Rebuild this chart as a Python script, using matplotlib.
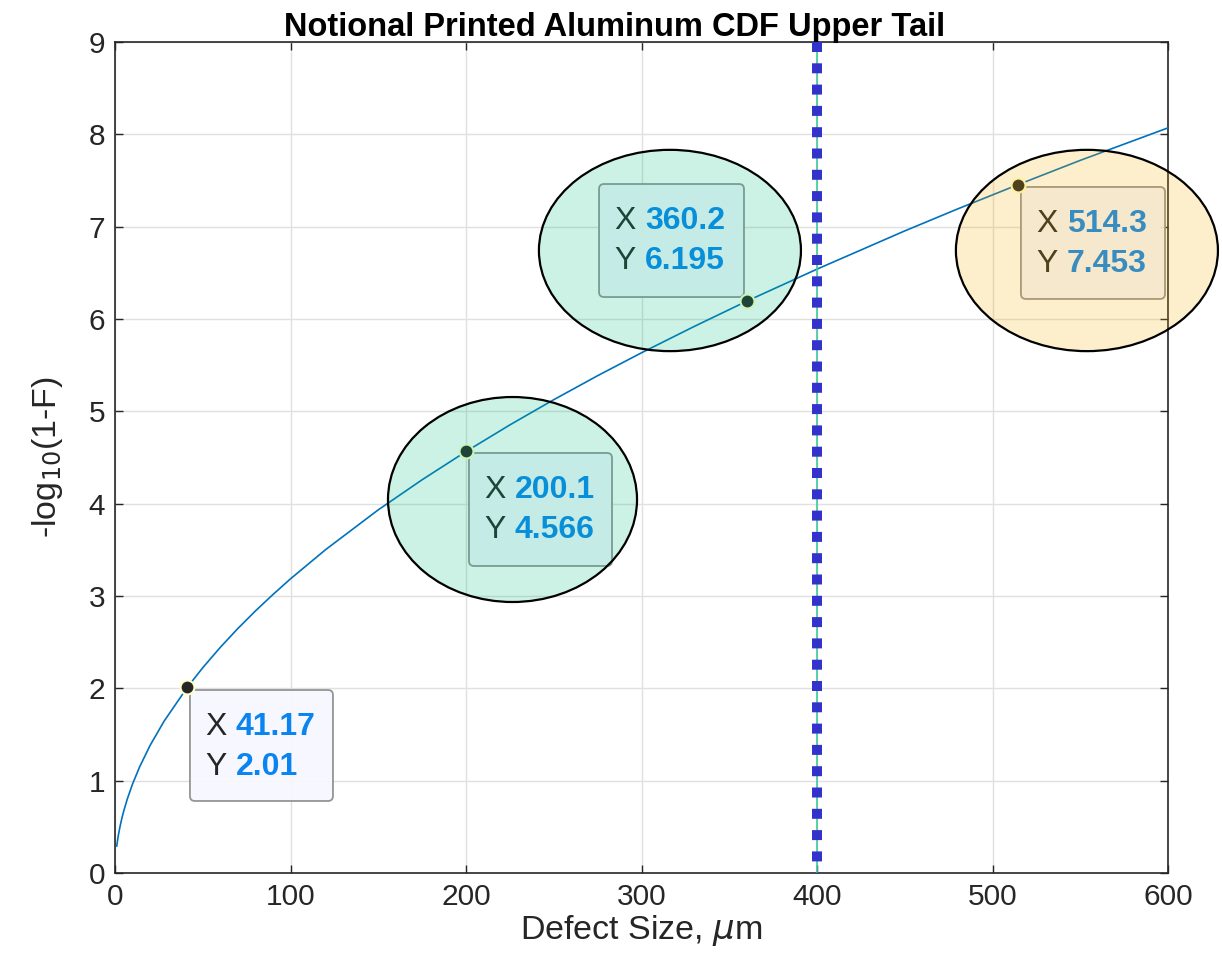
import matplotlib
matplotlib.use("Agg")
import matplotlib.pyplot as plt
from matplotlib.patches import Ellipse, FancyBboxPatch

plt.rcParams['font.family'] = ['Liberation Sans', 'DejaVu Sans']
plt.rcParams['mathtext.fontset'] = 'dejavusans'

# ---- data ----
defect_size = [1, 1.5, 2, 3, 4, 5, 7, 10, 14, 20, 28, 41.17, 50, 60, 70, 80,
               90, 100, 120, 150, 175, 200.1, 225, 250, 275, 300, 330, 360.2,
               400, 450, 480, 514.3, 550, 600]
neg_log_surv = [0.292, 0.360, 0.418, 0.516, 0.599, 0.673, 0.801, 0.964, 1.148,
                1.382, 1.645, 2.01, 2.223, 2.444, 2.648, 2.838, 3.016, 3.186,
                3.502, 3.933, 4.259, 4.566, 4.853, 5.126, 5.386, 5.634, 5.919,
                6.195, 6.54, 6.954, 7.191, 7.453, 7.718, 8.07]

tip_x = [41.17, 200.1, 360.2, 514.3]
tip_y = [2.01, 4.566, 6.195, 7.453]
tip_xlabels = ["41.17", "200.1", "360.2", "514.3"]
tip_ylabels = ["2.01", "4.566", "6.195", "7.453"]
# box (left, right, bottom, top) in data units
tip_boxes = [(42.7, 124.2, 0.78, 1.982),
             (201.7, 283.2, 3.325, 4.549),
             (275.8, 358.4, 6.238, 7.462),
             (516.2, 598.3, 6.217, 7.430)]

threshold_x = 400

ell_centers = [(226.5, 4.045), (316.2, 6.742), (553.8, 6.742)]
ell_sizes = [(141.9, 2.22), (149.3, 2.18), (149.3, 2.18)]
ell_colors = [(0.0, 0.745, 0.51), (0.0, 0.745, 0.51), (0.96, 0.69, 0.0)]

xticks = [0, 100, 200, 300, 400, 500, 600]
yticks = list(range(0, 10))

# ---- figure ----
fig = plt.figure(figsize=(12.22, 9.73), dpi=100)
ax = fig.add_axes([115/1222, 100/973, 1053/1222, 831/973])

ax.set_xlim(0, 600)
ax.set_ylim(0, 9)
ax.set_xticks(xticks)
ax.set_yticks(yticks)
ax.grid(True, color='#e0e0e0', linewidth=1.0, zorder=0)
ax.set_axisbelow(True)
ax.tick_params(direction='in', length=6, width=1, colors='#262626',
               labelsize=21.5, top=True, right=True, pad=7)
for s in ax.spines.values():
    s.set_color('#262626')
    s.set_linewidth(1.2)

ax.plot(defect_size, neg_log_surv, color='#0072BD', linewidth=1.2, zorder=3)

# threshold line: thin green under square-dotted blue (drawn top to bottom)
ax.axvline(threshold_x, color='#40c8a0', linewidth=1.2, zorder=3)
ax.plot([threshold_x, threshold_x], [9, 0], color='#3333cc', linewidth=7.2,
        linestyle=(0, (1, 1.13)), dash_capstyle='butt', zorder=4)

xpx_per = 1053 / 600.0
ypx_per = 831 / 9.0

# datatips
for (l, r, b, t), xl, yl in zip(tip_boxes, tip_xlabels, tip_ylabels):
    box = FancyBboxPatch((l, b), r - l, t - b,
                         boxstyle="round,pad=0,rounding_size=%f" % (5 / xpx_per),
                         mutation_aspect=xpx_per / ypx_per,
                         facecolor=(0.97, 0.97, 1.0), edgecolor='#8c8c8c',
                         linewidth=1.3, alpha=0.92, zorder=5)
    ax.add_patch(box)
    ax.text(l + 15 / xpx_per, t - 37 / ypx_per, "X", color='#262626',
            fontsize=23, va='center', ha='left', zorder=6)
    ax.text(l + 46 / xpx_per, t - 37 / ypx_per, xl, color='#0a84f0',
            fontsize=23, fontweight='bold', va='center', ha='left', zorder=6)
    ax.text(l + 15 / xpx_per, t - 77 / ypx_per, "Y", color='#262626',
            fontsize=23, va='center', ha='left', zorder=6)
    ax.text(l + 46 / xpx_per, t - 77 / ypx_per, yl, color='#0a84f0',
            fontsize=23, fontweight='bold', va='center', ha='left', zorder=6)

ax.plot(tip_x, tip_y, linestyle='none', marker='o', markersize=10,
        markerfacecolor='#262626', markeredgecolor='#ffffc8',
        markeredgewidth=1.5, zorder=7)

# ellipses (translucent fill, black outline) on top
for (cx, cy), (w, h), c in zip(ell_centers, ell_sizes, ell_colors):
    e_fill = Ellipse((cx, cy), w, h, facecolor=c, alpha=0.2,
                     edgecolor='none', zorder=8, clip_on=False)
    ax.add_patch(e_fill)
    e_edge = Ellipse((cx, cy), w, h, facecolor='none', edgecolor='black',
                     linewidth=1.6, zorder=9, clip_on=False)
    ax.add_patch(e_edge)

ax.set_title("Notional Printed Aluminum CDF Upper Tail", fontsize=23.5,
             fontweight='bold', color='black', pad=4, x=0.474)
ax.set_xlabel(r"Defect Size, $\mu$m", fontsize=24.5, color='#262626', labelpad=2)
ax.set_ylabel(r"-log$_{10}$(1-F)", fontsize=24.5, color='#262626', labelpad=17)

fig.savefig("out.png", dpi=100, facecolor='white')
